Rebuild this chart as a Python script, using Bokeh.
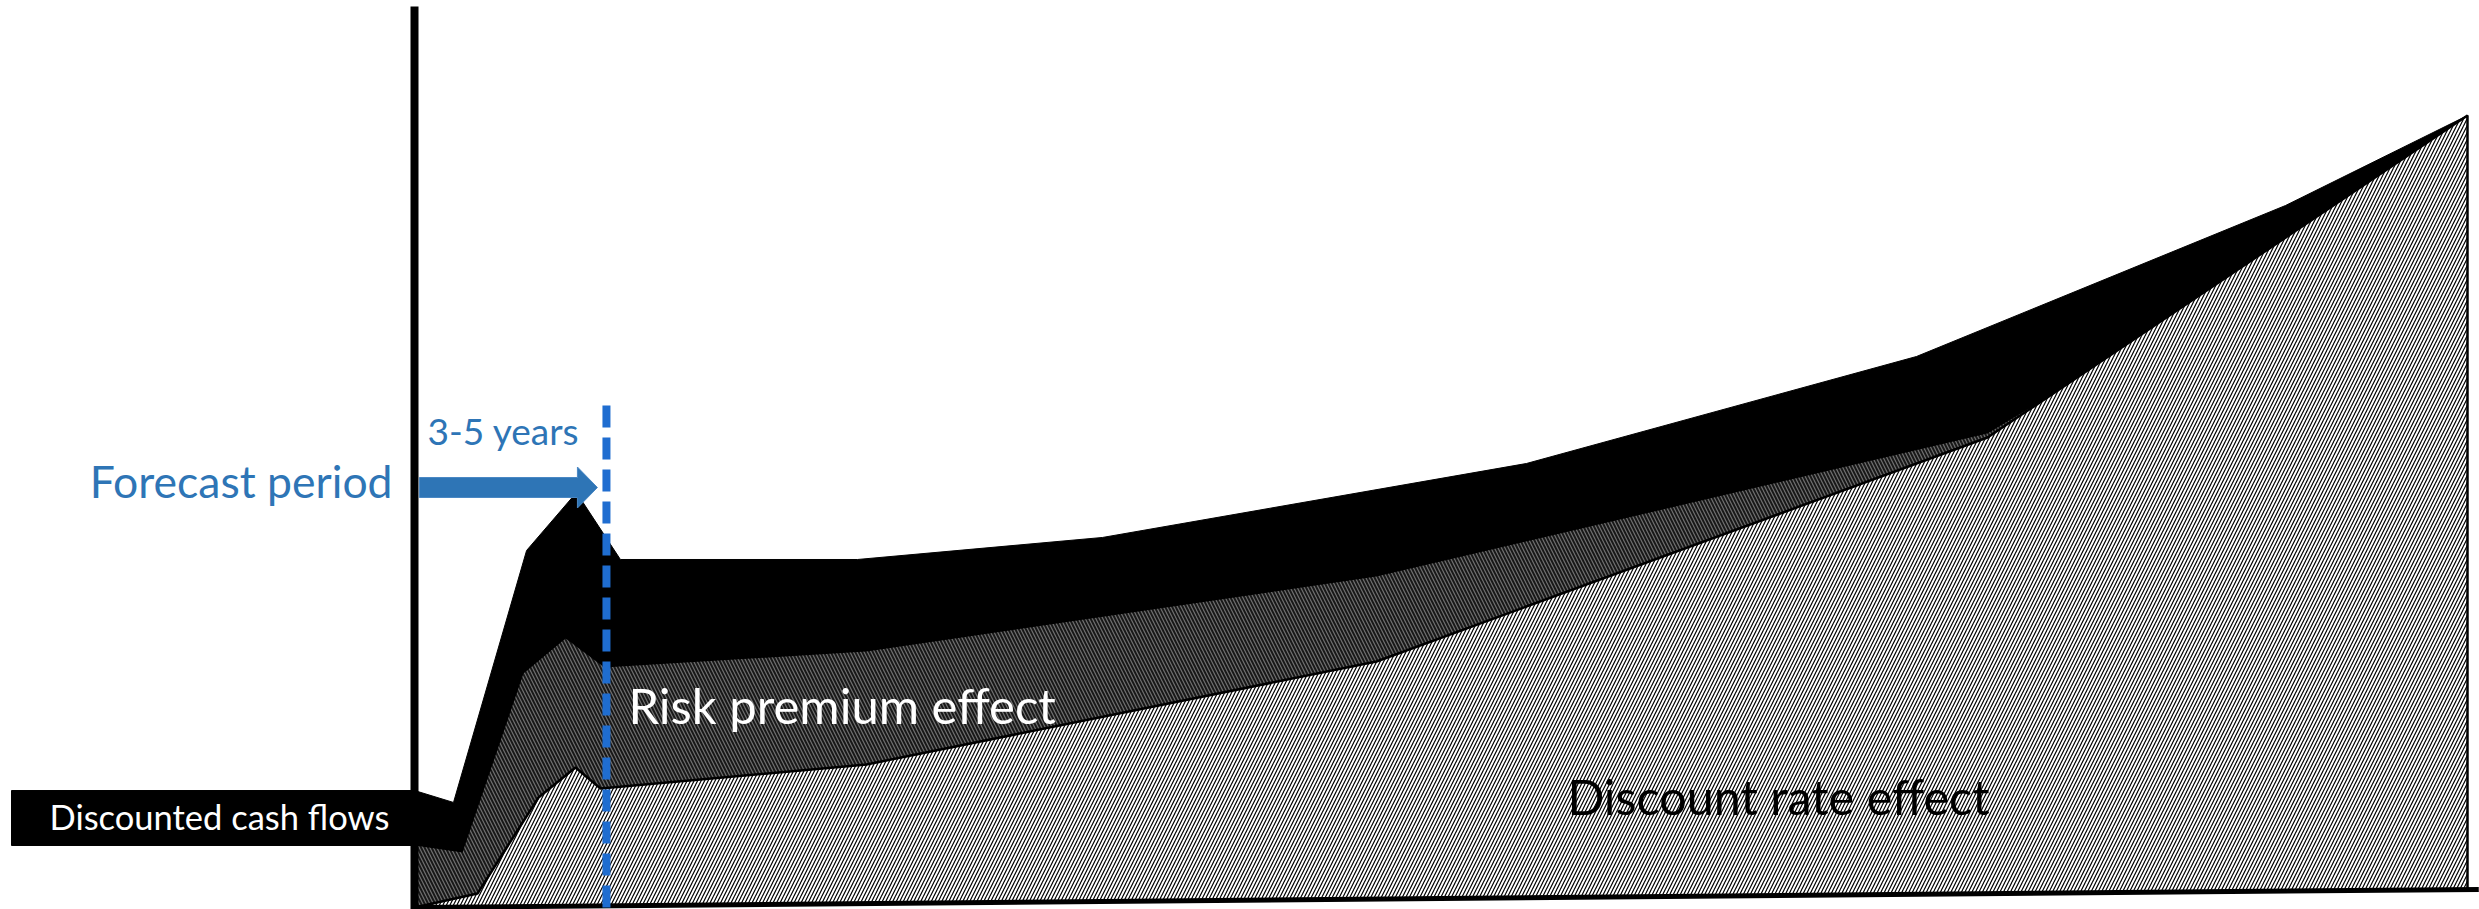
import numpy as np
from bokeh.plotting import figure
from bokeh.models import Range1d, Label
from bokeh.embed import file_html
from bokeh.resources import INLINE

# ---- Data (time index 0..100, value index 0..100) ----
# Upper edge of the discounted-cash-flow band (total value)
dcf_x = [0, 1.90, 5.46, 7.89, 10.03, 21.58, 33.51, 54.16, 73.16, 91.14, 100]
dcf_top = [14.77, 13.26, 45.08, 52.40, 43.94, 43.94, 46.72, 56.06, 69.57, 88.64, 100]

# Upper edge of the risk premium effect band
risk_x = [0, 2.34, 5.31, 7.36, 9.25, 22.02, 46.86, 76.62, 81.64, 100]
risk_top = [7.83, 6.94, 29.55, 33.96, 30.30, 32.32, 41.79, 59.85, 67.68, 100]

# Upper edge of the discount rate effect band
rate_x = [0, 3.07, 6.04, 7.84, 9.06, 22.02, 46.86, 76.62, 100]
rate_top = [0, 1.77, 13.89, 17.68, 15.03, 18.06, 31.06, 59.34, 100]

# Baseline of the stack
base_x = [0, 100]
base_y = [0, 2.27]

forecast_end = 9.35          # end of the explicit forecast period
forecast_labels = ["Forecast period", "3-5 years"]
area_labels = ["Discounted cash flows", "Risk premium effect", "Discount rate effect"]

# ---- Figure ----
W, H = 2479, 909
x_start, x_end = -20.166, 100.585
y_start, y_end = -0.2525, 114.52
px_x = W / (x_end - x_start)
px_y = H / (y_end - y_start)

p = figure(width=W, height=H, x_range=Range1d(x_start, x_end), y_range=Range1d(y_start, y_end),
           x_axis_location=None, y_axis_location=None, min_border=0,
           toolbar_location=None, output_backend="svg")
p.grid.visible = False
p.outline_line_color = None
p.background_fill_color = "white"
p.border_fill_color = "white"


def base_at(x):
    return np.interp(x, base_x, base_y)


def band(xs, tops):
    poly_x = list(xs) + [xs[-1], xs[0]]
    poly_y = list(tops) + [float(base_at(xs[-1])), float(base_at(xs[0]))]
    return poly_x, poly_y


# Discounted cash flows: solid black
bx, by = band(dcf_x, dcf_top)
p.patch(bx, by, fill_color="black", line_color="black", line_width=1)

# Risk premium effect: dark with light back-diagonal hatching
rx, ry = band(risk_x, risk_top)
p.patch(rx, ry, fill_color="#181818", line_color=None,
        hatch_pattern="\\", hatch_color="#707070", hatch_scale=7, hatch_weight=1.2)

# Discount rate effect: white with black diagonal hatching, outlined
dx, dy = band(rate_x, rate_top)
p.patch(dx, dy, fill_color="white", line_color="black", line_width=2.5,
        hatch_pattern="/", hatch_color="black", hatch_scale=7, hatch_weight=1.2)

# Baseline (horizontal axis)
slope = (base_y[1] - base_y[0]) / (base_x[1] - base_x[0])
axis_end = 100.55
p.line([0, axis_end], [base_y[0], base_y[0] + slope * axis_end], line_color="black", line_width=5)

# Vertical axis
p.segment(x0=[0], y0=[y_start], x1=[0], y1=[113.76], line_color="black", line_width=8)

# End of forecast period marker
p.segment(x0=[forecast_end], y0=[63.38], x1=[forecast_end], y1=[y_start],
          line_color="#1f6dd0", line_width=8, line_dash="22 10")

# Forecast arrow
ax0, ax1, ay = 0.24, 8.91, 53.03
shaft = 10 / px_y
head = 20.5 / px_y
head_len = 20 / px_x
arrow_xs = [ax0, ax1 - head_len, ax1 - head_len, ax1, ax1 - head_len, ax1 - head_len, ax0]
arrow_ys = [ay + shaft, ay + shaft, ay + head, ay, ay - head, ay - shaft, ay - shaft]
p.patch(arrow_xs, arrow_ys, fill_color="#2e75b6", line_color="#4a88c4", line_width=1)

# Label box for the cash flow band
p.quad(left=[-19.63], right=[0], top=[dcf_top[0]], bottom=[risk_top[0]],
       fill_color="black", line_color="black")

FONT = "Lato"
blue = "#2e75b6"
lift = 16 / px_y   # raise text so its caps sit where the drawing expects


def add_label(x, y, text, size, color, align="left"):
    p.add_layout(Label(x=x, y=y + lift, text=text, text_align=align, text_baseline="alphabetic",
                       text_font=FONT, text_font_size=size, text_color=color))


add_label(-1.07, 51.89, forecast_labels[0], "44.5px", blue, align="right")
add_label(0.63, 58.21, forecast_labels[1], "37px", blue)
add_label(-17.78, 9.47, area_labels[0], "34.5px", "white")
add_label(10.42, 23.61, area_labels[1], "49px", "white")
add_label(56.16, 12.12, area_labels[2], "48.5px", "black")

open("out.html", "w").write(file_html(p, INLINE))
